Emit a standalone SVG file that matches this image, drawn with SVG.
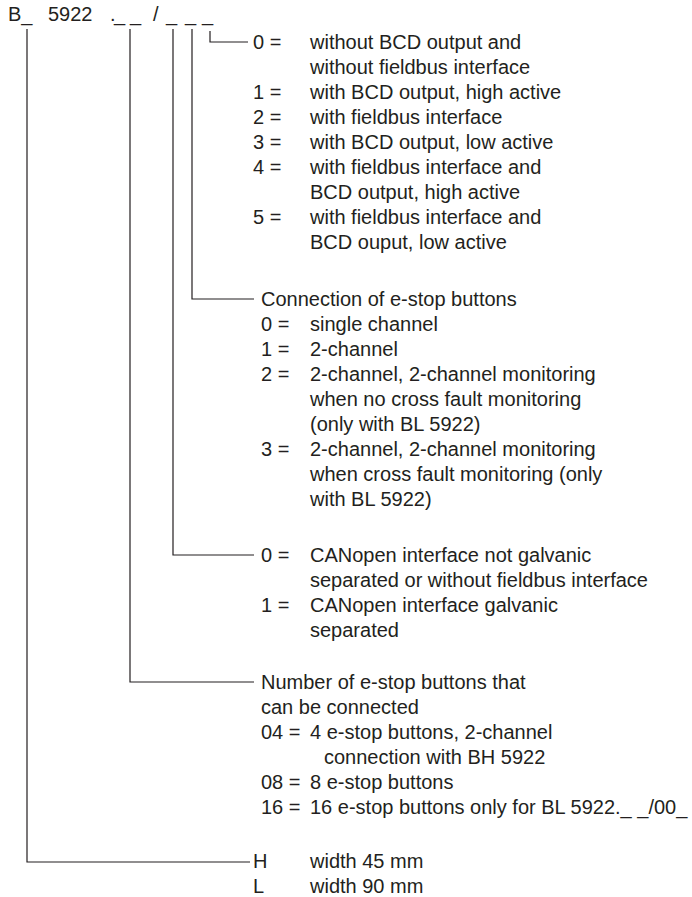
<svg xmlns="http://www.w3.org/2000/svg" width="692" height="897" viewBox="0 0 692 897">
<style>
text{font-family:"Liberation Sans",Arial,sans-serif;font-size:20px;fill:#231f20}
.c{fill:none;stroke:#231f20;stroke-width:1.2}
</style>
<rect width="692" height="897" fill="#fff"/>
<g id="header">
<text x="8" y="21">B_</text>
<text x="48" y="21">5922</text>
<text x="110" y="21">.</text>
<text x="114" y="21">_</text>
<text x="130" y="21">_</text>
<text x="153" y="21">/</text>
<text x="166" y="21">_</text>
<text x="185" y="21">_</text>
<text x="202" y="21">_</text>
</g>
<g id="connectors">
<path class="c" d="M27 29V862H250"/>
<path class="c" d="M130 29V682H254"/>
<path class="c" d="M173 29V555H254"/>
<path class="c" d="M192 29V299H254"/>
<path class="c" d="M210 31V42H248"/>
</g>
<g id="output">
<text x="253" y="49">0 =</text><text x="310" y="49">without BCD output and</text>
<text x="310" y="74">without fieldbus interface</text>
<text x="253" y="99">1 =</text><text x="310" y="99">with BCD output, high active</text>
<text x="253" y="124">2 =</text><text x="310" y="124">with fieldbus interface</text>
<text x="253" y="149">3 =</text><text x="310" y="149">with BCD output, low active</text>
<text x="253" y="174">4 =</text><text x="310" y="174">with fieldbus interface and</text>
<text x="310" y="199">BCD output, high active</text>
<text x="253" y="224">5 =</text><text x="310" y="224">with fieldbus interface and</text>
<text x="310" y="249">BCD ouput, low active</text>
</g>
<g id="estop-connection">
<text x="261" y="306">Connection of e-stop buttons</text>
<text x="261" y="331">0 =</text><text x="310" y="331">single channel</text>
<text x="261" y="356">1 =</text><text x="310" y="356">2-channel</text>
<text x="261" y="381">2 =</text><text x="310" y="381">2-channel, 2-channel monitoring</text>
<text x="310" y="406">when no cross fault monitoring</text>
<text x="310" y="431">(only with BL 5922)</text>
<text x="261" y="456">3 =</text><text x="310" y="456">2-channel, 2-channel monitoring</text>
<text x="310" y="481">when cross fault monitoring (only</text>
<text x="310" y="506">with BL 5922)</text>
</g>
<g id="canopen">
<text x="261" y="562">0 =</text><text x="310" y="562">CANopen interface not galvanic</text>
<text x="310" y="587">separated or without fieldbus interface</text>
<text x="261" y="612">1 =</text><text x="310" y="612">CANopen interface galvanic</text>
<text x="310" y="637">separated</text>
</g>
<g id="number">
<text x="261" y="689">Number of e-stop buttons that</text>
<text x="261" y="714">can be connected</text>
<text x="261" y="739">04 =</text><text x="310" y="739">4 e-stop buttons, 2-channel</text>
<text x="324" y="764">connection with BH 5922</text>
<text x="261" y="789">08 =</text><text x="310" y="789">8 e-stop buttons</text>
<text x="261" y="814">16 =</text><text x="310" y="814">16 e-stop buttons only for BL 5922._ _/00_</text>
</g>
<g id="width">
<text x="253" y="868">H</text><text x="310" y="868">width 45 mm</text>
<text x="253" y="893">L</text><text x="310" y="893">width 90 mm</text>
</g>
</svg>
